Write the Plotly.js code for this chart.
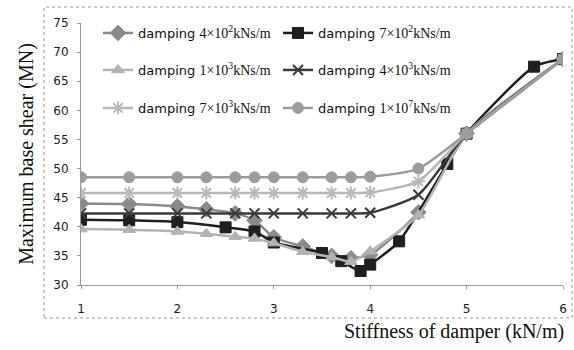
<!DOCTYPE html>
<html>
<head>
<meta charset="utf-8">
<script src="https://cdn.plot.ly/plotly-3.0.1.min.js"></script>
<style>html,body{margin:0;padding:0;background:#fff;}#chart{width:574px;height:350px;}</style>
</head>
<body>
<div id="chart"></div>
<script>
// Stiffness of damper (kN/m) positions
const xCommon = [1, 1.5, 2, 2.3, 2.6, 2.8, 3, 3.3, 3.6, 3.8, 4, 4.5, 5, 6];
const xSquare = [1, 1.5, 2, 2.5, 2.8, 3, 3.5, 3.7, 3.9, 4, 4.3, 4.8, 5, 5.7, 6];

// Maximum base shear (MN)
const damp4e2 = [44.0, 43.9, 43.5, 43.0, 42.3, 41.1, 38.2, 36.6, 35.0, 34.6, 35.2, 42.5, 56.0, 68.8];
const damp7e2 = [41.2, 41.1, 40.8, 39.9, 39.2, 37.3, 35.5, 34.1, 32.4, 33.5, 37.5, 50.8, 56.0, 67.5, 68.8];
const damp1e3 = [39.6, 39.5, 39.2, 38.8, 38.3, 38.0, 37.2, 35.7, 34.8, 34.0, 35.8, 42.0, 56.0, 68.8];
const damp4e3 = [42.3, 42.3, 42.3, 42.3, 42.3, 42.3, 42.3, 42.3, 42.3, 42.3, 42.4, 45.5, 56.0, 68.8];
const damp7e3 = [45.8, 45.8, 45.8, 45.8, 45.8, 45.8, 45.8, 45.8, 45.8, 45.8, 45.9, 47.8, 56.0, 68.8];
const damp1e7 = [48.5, 48.5, 48.5, 48.5, 48.5, 48.5, 48.5, 48.5, 48.5, 48.5, 48.6, 50.0, 56.0, 68.8];

const seriesNames = ['4×10<sup>2</sup>kNs/m', '7×10<sup>2</sup>kNs/m', '1×10<sup>3</sup>kNs/m',
                     '4×10<sup>3</sup>kNs/m', '7×10<sup>3</sup>kNs/m', '1×10<sup>7</sup>kNs/m'];
const xTicks = [1, 2, 3, 4, 5, 6];
const yTicks = [30, 35, 40, 45, 50, 55, 60, 65, 70, 75];

function nm(s) {
  return 'damping <span style="font-family:\'Liberation Serif\',serif;font-size:14px">' + s + '</span>';
}

function tr(x, y, name, color, symbol, size, legend, extra) {
  const t = {
    x: x, y: y, name: nm(name), type: 'scatter', mode: 'lines+markers',
    line: {color: color, width: 2.5, shape: 'spline', smoothing: 0.6},
    marker: {color: color, symbol: symbol, size: size, line: {color: color, width: 1}},
    legend: legend
  };
  if (extra) Object.assign(t.marker, extra);
  return t;
}

const data = [
  tr(xCommon, damp4e2, seriesNames[0], '#8a8a8a', 'diamond', 12, 'legend'),
  tr(xSquare, damp7e2, seriesNames[1], '#1f1f1f', 'square', 11, 'legend'),
  tr(xCommon, damp1e3, seriesNames[2], '#b3b3b3', 'triangle-up', 11, 'legend2'),
  tr(xCommon, damp4e3, seriesNames[3], '#3a3a3a', 'x-thin-open', 10, 'legend2', {line: {color: '#3a3a3a', width: 2}}),
  tr(xCommon, damp7e3, seriesNames[4], '#b8b8b8', 'asterisk-open', 11, 'legend3', {line: {color: '#b0b0b0', width: 2}}),
  tr(xCommon, damp1e7, seriesNames[5], '#9c9c9c', 'circle', 11, 'legend3')
];

const legFont = {family: 'DejaVu Sans, sans-serif', size: 13, color: '#111'};
function leg(ypx) {
  return {orientation: 'h', x: (98 - 81) / 482, y: (285 - ypx) / 262, xanchor: 'left', yanchor: 'middle',
          font: legFont, bgcolor: 'rgba(0,0,0,0)', entrywidth: 135, itemwidth: 30, traceorder: 'normal'};
}

const layout = {
  width: 574, height: 350,
  margin: {l: 81, r: 11, t: 23, b: 65},
  paper_bgcolor: '#fff', plot_bgcolor: '#fff',
  font: {family: 'DejaVu Sans, sans-serif', size: 12, color: '#222'},
  showlegend: true,
  legend: leg(33), legend2: leg(70), legend3: leg(108),
  xaxis: {range: [1, 6], tickvals: xTicks, ticktext: xTicks.map(String), showgrid: false, zeroline: false,
          showline: true, linecolor: '#9a9a9a', linewidth: 1, ticks: 'outside', ticklen: 3, tickcolor: '#9a9a9a',
          ticklabelstandoff: 10, tickfont: {size: 12, color: '#222'}},
  yaxis: {range: [30, 75], tickvals: yTicks, ticktext: yTicks.map(String), showgrid: false, zeroline: false,
          showline: true, linecolor: '#9a9a9a', linewidth: 1, ticks: 'outside', ticklen: 3, tickcolor: '#9a9a9a',
          ticklabelstandoff: 6, tickfont: {size: 12, color: '#222'},
          title: {text: 'Maximum base shear (MN)', font: {family: 'Liberation Serif, serif', size: 20, color: '#111'}, standoff: 14}},
  shapes: [{type: 'rect', xref: 'paper', yref: 'paper', x0: (44 - 81) / 482, x1: (572 - 81) / 482,
            y0: (285 - 318) / 262, y1: (285 - 7) / 262, line: {color: '#999', width: 1, dash: 'dot'}}],
  annotations: [{text: 'Stiffness of damper (kN/m)', xref: 'paper', yref: 'paper', x: (566 - 81) / 482,
                 y: (285 - 331) / 262, xanchor: 'right', yanchor: 'middle', showarrow: false,
                 font: {family: 'Liberation Serif, serif', size: 20, color: '#111'}}]
};

Plotly.newPlot('chart', data, layout, {displayModeBar: false, staticPlot: true});
</script>
</body>
</html>
